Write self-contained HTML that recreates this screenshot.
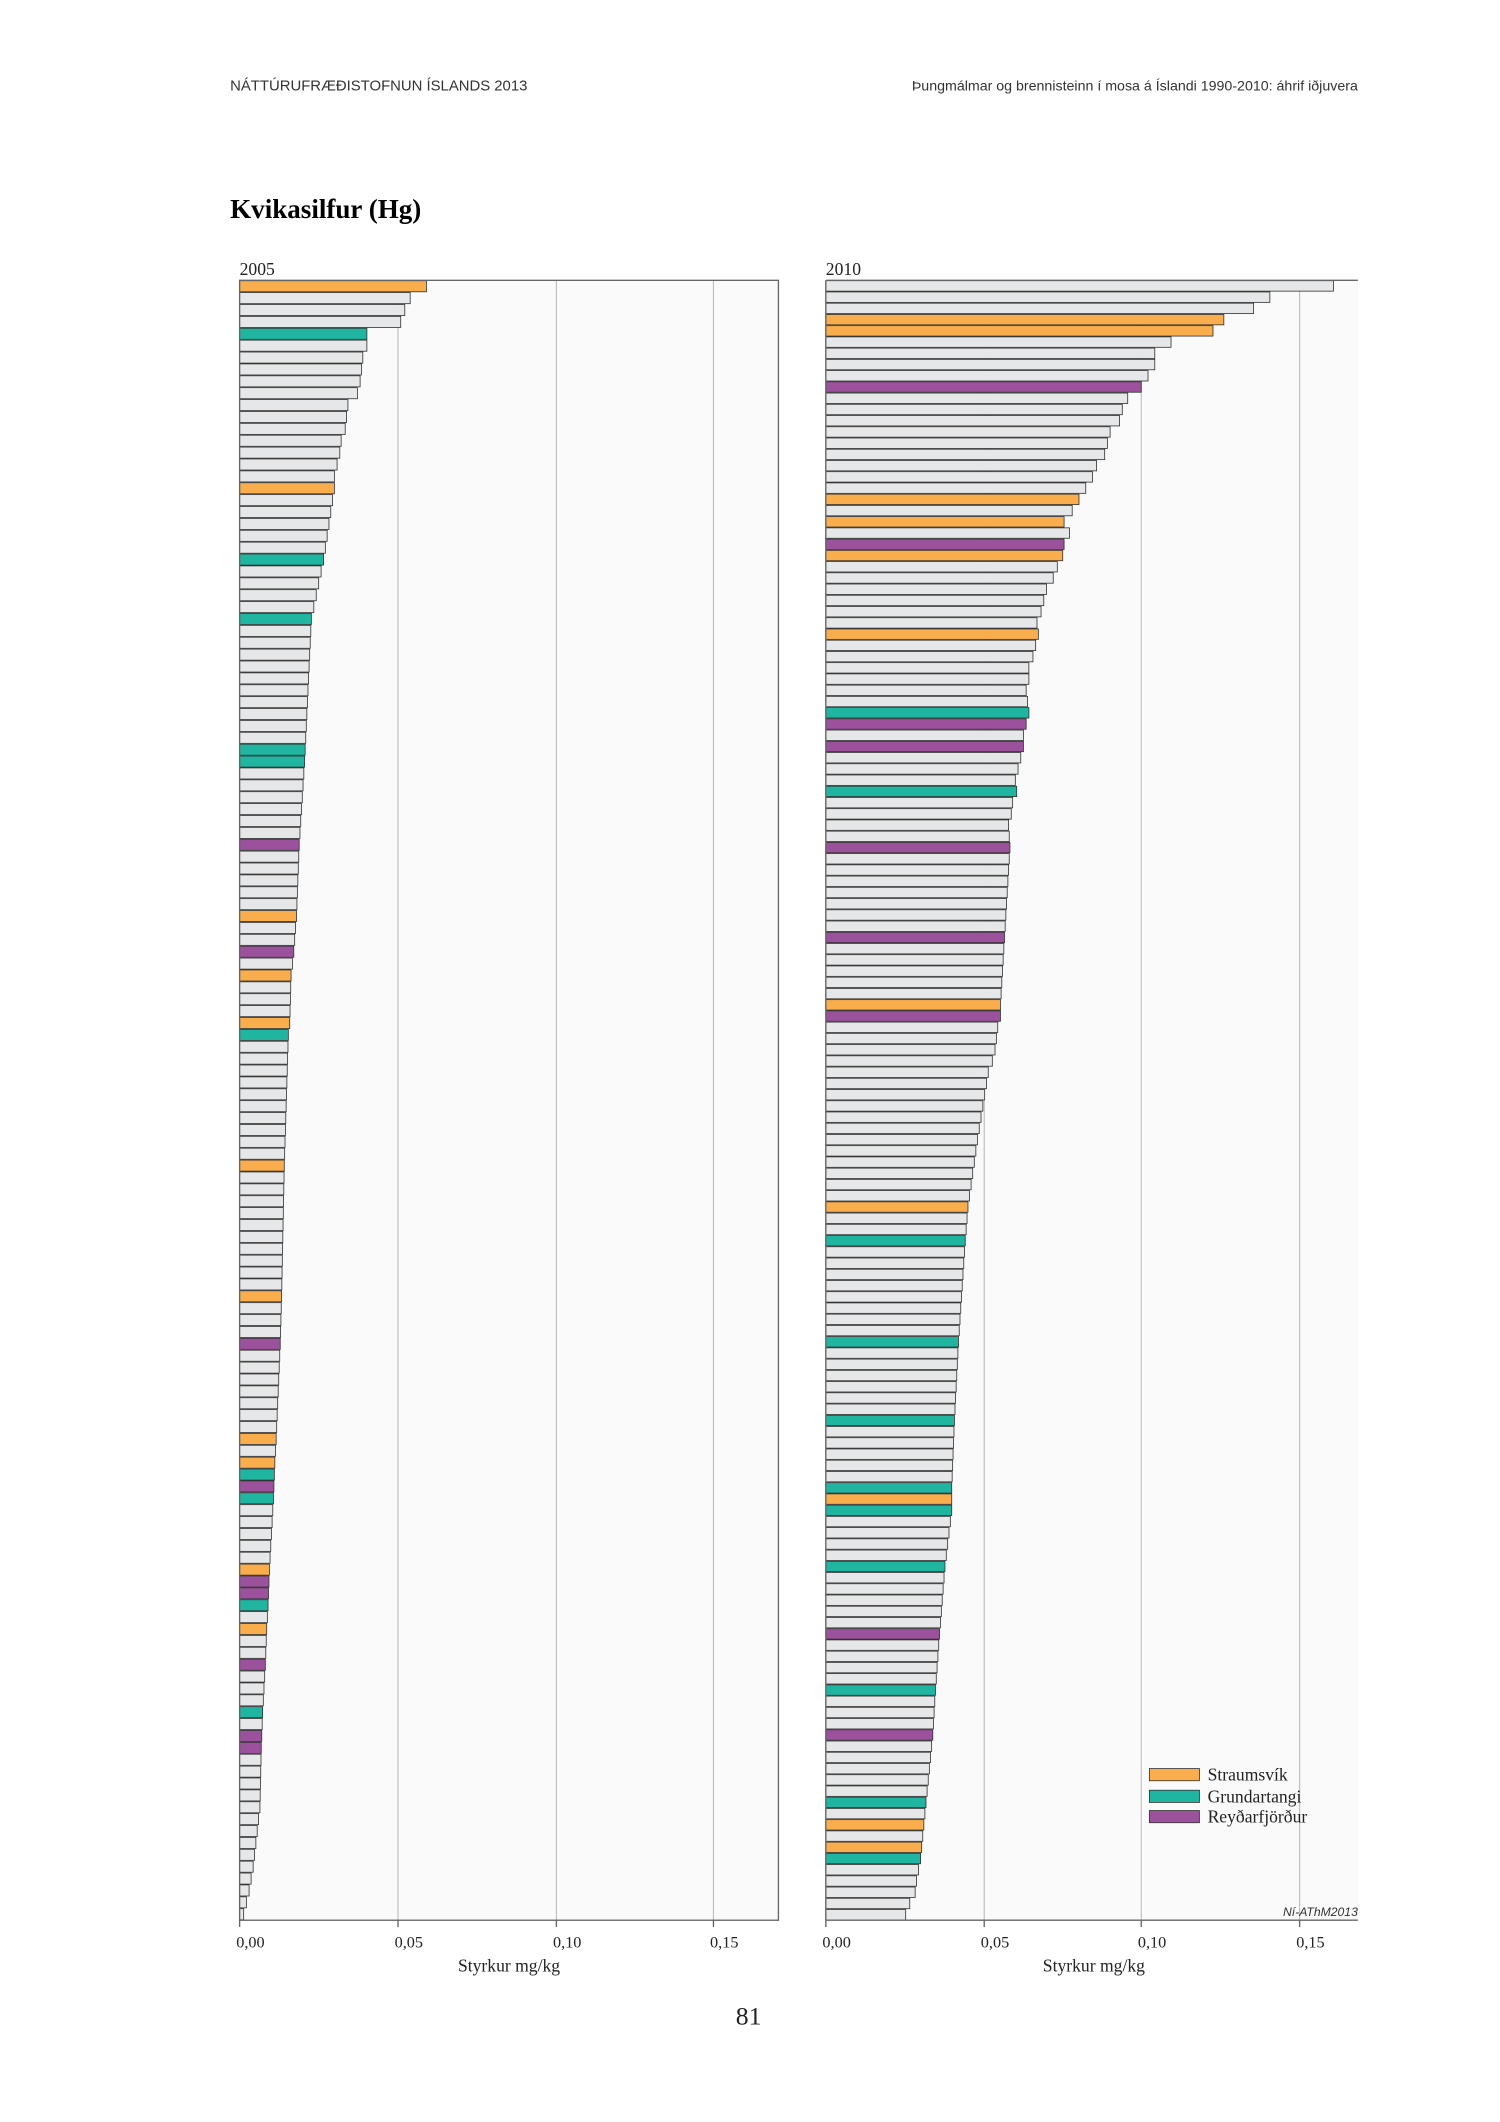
<!DOCTYPE html>
<html><head><meta charset="utf-8"><style>
html,body{margin:0;padding:0;background:#fff;}
svg{display:block;}
</style></head><body>
<svg id="s" xmlns="http://www.w3.org/2000/svg" width="1500" height="2122" viewBox="0 0 1108 1567" preserveAspectRatio="none">
<rect x="0" y="0" width="1108" height="1567" fill="#fff"/>
<text x="170" y="67" font-family="Liberation Sans, sans-serif" font-size="11" fill="#333">NÁTTÚRUFRÆÐISTOFNUN ÍSLANDS 2013</text>
<text x="1003" y="67" text-anchor="end" font-family="Liberation Sans, sans-serif" font-size="10.5" fill="#333">Þungmálmar og brennisteinn í mosa á Íslandi 1990-2010: áhrif iðjuvera</text>
<text x="170" y="161" font-family="Liberation Serif, serif" font-size="20" font-weight="bold" fill="#000">Kvikasilfur (Hg)</text>
<text x="177" y="203" font-family="Liberation Serif, serif" font-size="13" fill="#222">2005</text>
<text x="610" y="203" font-family="Liberation Serif, serif" font-size="13" fill="#222">2010</text>
<rect x="177" y="207" width="398" height="1211" fill="#fafafa"/>
<rect x="610" y="207" width="393" height="1211" fill="#fafafa"/>
<g stroke="#bbb" stroke-width="0.8">
<line x1="294" y1="207" x2="294" y2="1418"/><line x1="411" y1="207" x2="411" y2="1418"/><line x1="527" y1="207" x2="527" y2="1418"/>
<line x1="727" y1="207" x2="727" y2="1418"/><line x1="843" y1="207" x2="843" y2="1418"/><line x1="960" y1="207" x2="960" y2="1418"/>
</g>
<g id="bars"></g>
<rect x="177" y="207" width="398" height="1211" fill="none" stroke="#666" stroke-width="1"/>
<g stroke="#666" stroke-width="1">
<line x1="610" y1="207" x2="1003" y2="207"/><line x1="610" y1="207" x2="610" y2="1418"/><line x1="610" y1="1418" x2="1003" y2="1418"/>
<line x1="177" y1="1418" x2="177" y2="1423"/><line x1="294" y1="1418" x2="294" y2="1423"/><line x1="411" y1="1418" x2="411" y2="1423"/><line x1="527" y1="1418" x2="527" y2="1423"/>
<line x1="610" y1="1418" x2="610" y2="1423"/><line x1="727" y1="1418" x2="727" y2="1423"/><line x1="843" y1="1418" x2="843" y2="1423"/><line x1="960" y1="1418" x2="960" y2="1423"/>
</g>
<g font-family="Liberation Serif, serif" font-size="12" fill="#222" text-anchor="middle">
<text x="185" y="1438">0,00</text><text x="302" y="1438">0,05</text><text x="419" y="1438">0,10</text><text x="535" y="1438">0,15</text>
<text x="618" y="1438">0,00</text><text x="735" y="1438">0,05</text><text x="851" y="1438">0,10</text><text x="968" y="1438">0,15</text>
<text x="376" y="1456" font-size="13">Styrkur mg/kg</text><text x="808" y="1456" font-size="13">Styrkur mg/kg</text>
<text x="553" y="1495" font-size="19">81</text>
</g>
<text x="1003" y="1415" text-anchor="end" font-family="Liberation Sans, sans-serif" font-style="italic" font-size="9" fill="#333">Ní-AThM2013</text>
<g stroke="#333" stroke-width="0.6">
<rect x="849" y="1306" width="37" height="9" fill="#f9ad4c"/>
<rect x="849" y="1322" width="37" height="9" fill="#1fb5a0"/>
<rect x="849" y="1337" width="37" height="9" fill="#9b519b"/>
</g>
<g font-family="Liberation Serif, serif" font-size="13" fill="#222">
<text x="892" y="1315">Straumsvík</text><text x="892" y="1331">Grundartangi</text><text x="892" y="1346">Reyðarfjörður</text>
</g>
</svg>
<script>
(function(){
var C={o:"#f9ad4c",t:"#1fb5a0",p:"#9b519b",g:"#e6e7e8"};
function interp(keys,n){var ks=Object.keys(keys).map(Number).sort(function(a,b){return a-b});var out=[];
for(var i=0;i<n;i++){var a=ks[0],b=ks[ks.length-1];for(var j=0;j<ks.length-1;j++){if(i>=ks[j]&&i<=ks[j+1]){a=ks[j];b=ks[j+1];break;}}
var va=keys[a],vb=keys[b];out.push(a==b?va:va+(vb-va)*(i-a)/(b-a));}return out;}
var L={0:138,1:126,2:122,3:119,4:94,5:94,6:91,7:90,8:89,9:87,10:80,11:79,12:78,13:75,14:74,15:72,16:70,17:70,23:62,28:53,40:48,47:44,53:42,56:40,58:38,62:37,63:36,74:33,85:31,89:30,97:27,99:26,102:25,108:22,111:21,113:20,116:19,120:17,123:16,128:15,131:12,133:10,135:7,136:5,137:3};
var Lc={0:"o",4:"t",17:"o",23:"t",28:"t",39:"t",40:"t",47:"p",53:"o",56:"p",58:"o",62:"o",63:"t",74:"o",85:"o",89:"p",97:"o",99:"o",100:"t",101:"p",102:"t",108:"o",109:"p",110:"p",111:"t",113:"o",116:"p",120:"t",122:"p",123:"p"};
var R={0:375,1:328,2:316,3:294,4:286,5:255,6:243,7:243,8:238,9:233,10:223,11:219,12:217,13:210,14:208,15:206,16:200,17:197,18:192,19:187,20:182,21:176,22:180,23:176,24:175,25:171,26:168,27:163,28:161,29:159,30:156,31:157,32:155,33:153,34:150,35:150,36:148,38:150,39:148,40:146,41:146,42:144,43:142,44:140,45:141,46:138,47:137,48:135,50:136,58:132,64:129,65:129,66:127,67:126,68:125,69:123,70:120,76:112,82:105,85:103,94:98,101:95,107:93,109:93,114:88,120:84,125:81,129:79,135:74,140:70,142:67,143:66,144:62,145:59};
var Rc={3:"o",4:"o",9:"p",19:"o",21:"o",23:"p",24:"o",31:"o",38:"t",39:"p",41:"p",45:"t",50:"p",58:"p",64:"o",65:"p",82:"o",85:"t",94:"t",101:"t",107:"t",108:"o",109:"t",114:"t",120:"p",125:"t",129:"p",135:"t",137:"o",139:"o",140:"t"};
var g=document.getElementById("bars"),ns="http://www.w3.org/2000/svg";
function draw(vals,cols,x0,h){for(var i=0;i<vals.length;i++){var r=document.createElementNS(ns,"rect");
r.setAttribute("x",x0);r.setAttribute("y",207+h*i+0.3);r.setAttribute("width",vals[i]);r.setAttribute("height",h-0.6);
r.setAttribute("fill",C[cols[i]||"g"]);r.setAttribute("stroke","#333");r.setAttribute("stroke-width","0.6");g.appendChild(r);}}
draw(interp(L,138),Lc,177,8.775);
draw(interp(R,146),Rc,610,8.295);
})();
</script>
</body></html>
